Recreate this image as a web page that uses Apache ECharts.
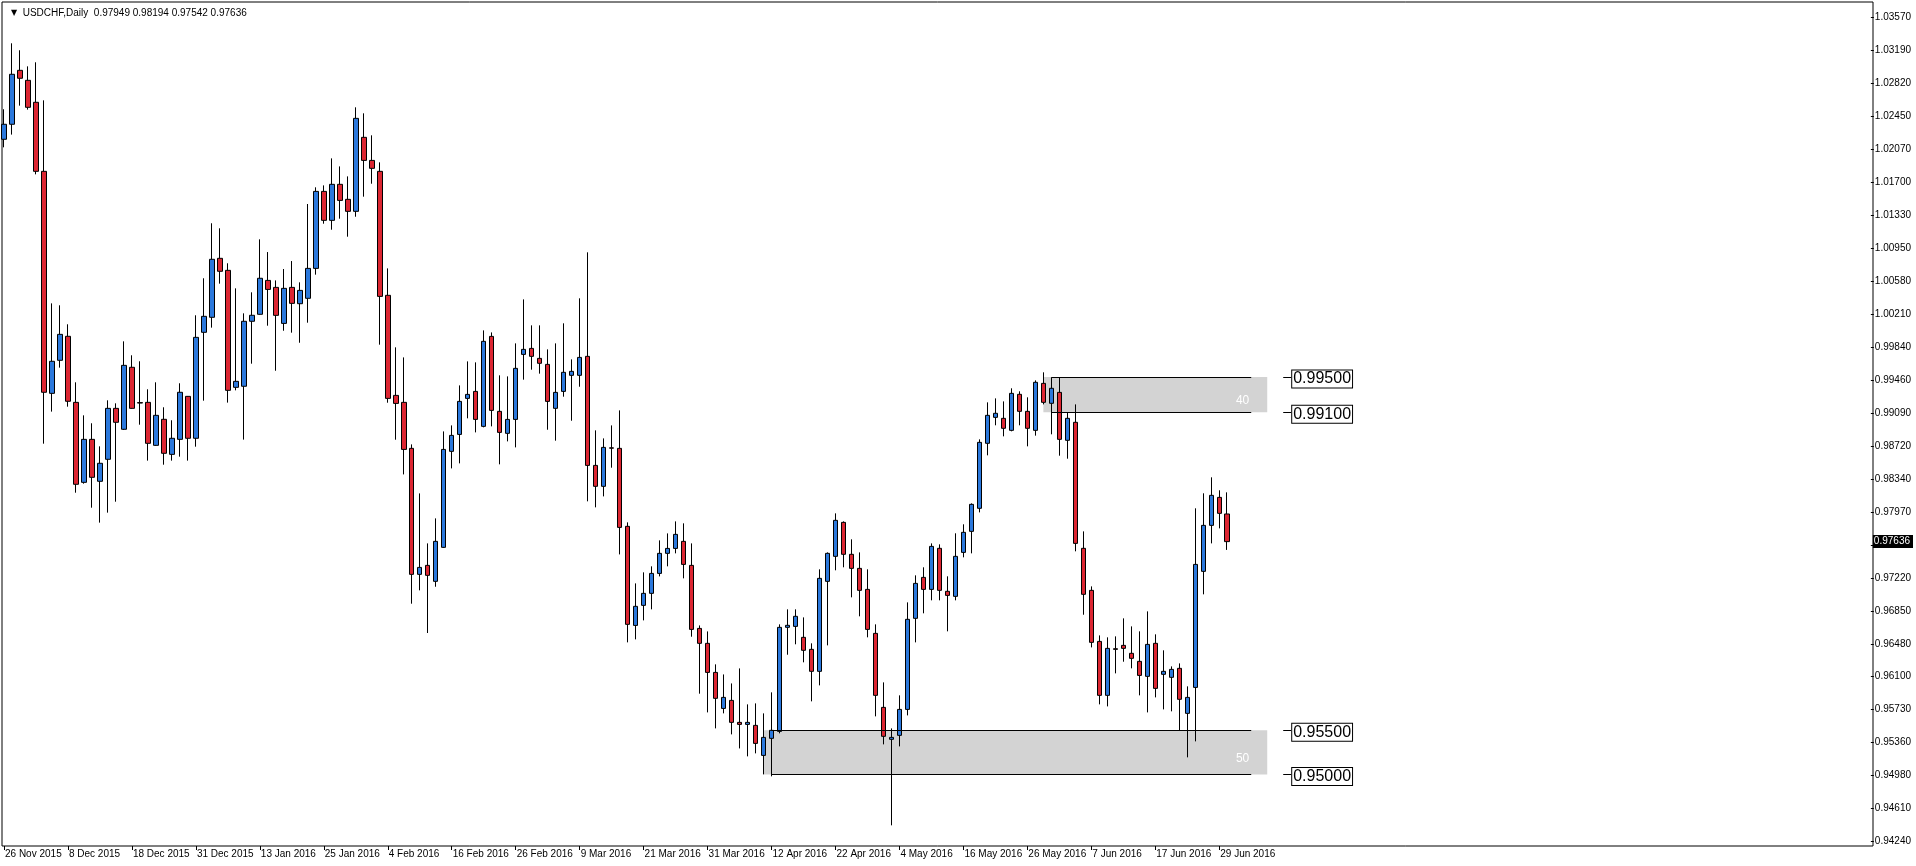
<!DOCTYPE html>
<html lang="en">
<head>
<meta charset="UTF-8">
<title>USDCHF,Daily</title>
<style>html,body{margin:0;padding:0;background:#fff;}</style>
</head>
<body>
<div id="chart" style="width:1916px;height:866px;"></div>
<script src="https://cdn.jsdelivr.net/npm/echarts/dist/echarts.min.js"></script>
<script>
// daily bars, 26 Nov 2015 .. 30 Jun 2016
var open = [
	1.02192,1.02362,1.02973,1.02860,1.02611,1.01829,0.99315,0.99689,0.99961,0.99213,
	0.98307,0.98794,0.98319,0.98568,0.99145,0.98908,0.99610,0.99210,0.99213,0.98726,
	0.99021,0.98624,0.98794,0.99281,0.98806,1.00006,1.00176,1.00844,1.00708,0.99383,
	0.99395,1.00131,1.00210,1.00594,1.00515,1.00107,1.00515,1.00330,1.00391,1.00730,
	1.01602,1.01274,1.01682,1.01512,1.01376,1.02214,1.01953,1.01829,1.00425,0.99292,
	0.99213,0.98692,0.97265,0.97367,0.97186,0.97571,0.98658,0.98850,0.99258,0.99337,
	0.98941,0.99960,0.99111,0.98862,0.99020,0.99756,0.99824,0.99711,0.99643,0.99145,
	0.99337,0.99519,0.99519,0.99734,0.98499,0.98262,0.98698,0.98692,0.97809,0.96687,
	0.96914,0.97050,0.97276,0.97503,0.97559,0.97639,0.97367,0.96653,0.96484,0.96155,
	0.95747,0.95838,0.95589,0.95566,0.95555,0.95215,0.95408,0.95487,0.96665,0.96676,
	0.96552,0.96416,0.96167,0.97186,0.97469,0.97854,0.97492,0.97333,0.97095,0.96597,
	0.95759,0.95397,0.95442,0.95736,0.96767,0.97231,0.97095,0.97560,0.97073,0.97016,
	0.97514,0.97752,0.98013,0.98749,0.99043,0.99032,0.98896,0.99304,0.99111,0.98896,
	0.99428,0.99202,0.99326,0.98783,0.98987,0.97560,0.97084,0.96506,0.95895,0.96423,
	0.96461,0.96371,0.96280,0.96110,0.96484,0.96133,0.96099,0.96201,0.95691,0.95985,
	0.97299,0.97820,0.98137,0.97949
];
var close = [
	1.02362,1.02928,1.02883,1.02554,1.01829,0.99327,0.99678,0.99983,0.99225,0.98285,
	0.98794,0.98364,0.98523,0.99145,0.98987,0.99632,0.99145,0.99205,0.98749,0.99066,
	0.98636,0.98806,0.99327,0.98806,0.99949,1.00187,1.00833,1.00697,0.99349,0.99451,
	1.00131,1.00199,1.00618,1.00492,1.00198,1.00504,1.00334,1.00481,1.00730,1.01602,
	1.01274,1.01682,1.01500,1.01376,1.02429,1.01953,1.01863,1.00413,0.99258,0.99201,
	0.98680,0.97265,0.97344,0.97254,0.97639,0.98680,0.98839,0.99224,0.99303,0.99020,
	0.99904,0.99122,0.98873,0.99020,0.99598,0.99813,0.99734,0.99655,0.99224,0.99326,
	0.99553,0.99564,0.99722,0.98499,0.98262,0.98703,0.98694,0.97797,0.96699,0.96903,
	0.97050,0.97276,0.97503,0.97559,0.97718,0.97378,0.96642,0.96484,0.96155,0.95861,
	0.95872,0.95589,0.95566,0.95589,0.95351,0.95419,0.95499,0.96665,0.96688,0.96790,
	0.96405,0.96167,0.97220,0.97503,0.97877,0.97492,0.97333,0.97084,0.96642,0.95895,
	0.95431,0.95419,0.95736,0.96756,0.97163,0.97095,0.97582,0.97084,0.97027,0.97469,
	0.97741,0.98058,0.98760,0.99066,0.99089,0.98919,0.99315,0.99111,0.98919,0.99440,
	0.99213,0.99372,0.98794,0.99032,0.97616,0.97039,0.96495,0.95895,0.96427,0.96416,
	0.96427,0.96314,0.96121,0.96472,0.95974,0.96167,0.96189,0.95850,0.95872,0.97378,
	0.97820,0.98160,0.97956,0.97636
];
var low = [
	1.02101,1.02245,1.02573,1.02528,1.01795,0.98745,0.99108,0.99606,0.99164,0.98190,
	0.98292,0.98020,0.97851,0.97964,0.98088,0.98900,0.99140,0.98960,0.98553,0.98720,
	0.98507,0.98553,0.98598,0.98553,0.98711,0.99232,1.00059,1.00557,0.99210,0.99349,
	0.98791,0.99651,1.00205,1.00081,0.99571,1.00024,1.00002,0.99888,1.00115,1.00659,
	1.01236,1.01168,1.01293,1.01089,1.01315,1.01542,1.01689,0.99866,0.99209,0.98790,
	0.98397,0.96933,0.97084,0.96601,0.97125,0.97565,0.98465,0.98522,0.99032,0.98873,
	0.98930,0.98941,0.98511,0.98771,0.98703,0.99470,0.99583,0.99538,0.98903,0.98779,
	0.99277,0.99005,0.99390,0.98092,0.98024,0.98148,0.98473,0.97491,0.96495,0.96529,
	0.96744,0.96869,0.97242,0.97356,0.97503,0.97220,0.96559,0.95914,0.95702,0.95521,
	0.95691,0.95453,0.95294,0.95204,0.95238,0.95000,0.94978,0.95465,0.96355,0.96473,
	0.96269,0.95827,0.96008,0.96461,0.97311,0.97345,0.97005,0.96790,0.96552,0.95657,
	0.95340,0.94423,0.95317,0.95668,0.96495,0.96824,0.96971,0.96971,0.96620,0.96971,
	0.97458,0.97503,0.97967,0.98613,0.98953,0.98828,0.98885,0.98953,0.98715,0.98836,
	0.99190,0.98851,0.98609,0.98575,0.97526,0.96808,0.96438,0.95793,0.95770,0.96144,
	0.96276,0.96201,0.95895,0.95702,0.95872,0.95736,0.95714,0.95502,0.95193,0.95374,
	0.97039,0.97616,0.97786,0.97542
];
var high = [
	1.02532,1.03279,1.03200,1.03018,1.03064,1.02633,1.00334,1.00312,1.00097,0.99440,
	0.99066,0.98976,0.98715,0.99236,0.99202,0.99904,0.99746,0.99678,0.99361,0.99440,
	0.99157,0.99010,0.99429,0.99285,1.00199,1.00618,1.01241,1.01184,1.00788,1.00504,
	1.00221,1.00459,1.01059,1.00915,1.00594,1.00723,1.00813,1.00572,1.01459,1.01648,
	1.01670,1.01976,1.01885,1.01772,1.02554,1.02486,1.02237,1.01931,1.00730,0.99836,
	0.99722,0.98737,0.98182,0.97616,0.97899,0.98884,0.98952,0.99405,0.99677,0.99666,
	1.00028,1.00005,0.99519,0.99507,0.99881,1.00379,1.00085,1.00085,0.99813,0.99881,
	1.00108,0.99700,1.00391,1.00912,0.98896,0.98805,0.98952,0.99122,0.97854,0.97163,
	0.97288,0.97356,0.97650,0.97729,0.97865,0.97843,0.97616,0.96687,0.96619,0.96246,
	0.96132,0.96030,0.96200,0.95793,0.95804,0.95691,0.95929,0.96699,0.96869,0.96869,
	0.96778,0.96484,0.97322,0.97514,0.97956,0.97865,0.97662,0.97514,0.97322,0.96699,
	0.96042,0.95521,0.95895,0.96948,0.97254,0.97345,0.97616,0.97605,0.97243,0.97730,
	0.97832,0.98069,0.98794,0.99213,0.99258,0.99224,0.99372,0.99338,0.99270,0.99462,
	0.99553,0.99496,0.99496,0.99100,0.99190,0.97752,0.97129,0.96574,0.96552,0.96563,
	0.96767,0.96676,0.96620,0.96846,0.96586,0.96405,0.96223,0.96257,0.95997,0.98013,
	0.98183,0.98364,0.98217,0.98194
];

// right price scale labels, bottom to top (the one under the bid box is hidden)
var priceTicks = ['0.94240','0.94610','0.94980','0.95360','0.95730','0.96100','0.96480',
	'0.96850','0.97220','','0.97970','0.98340','0.98720','0.99090','0.99460','0.99840',
	'1.00210','1.00580','1.00950','1.01330','1.01700','1.02070','1.02450','1.02820',
	'1.03190','1.03570'];

// drawn objects: zones [fromBar, toBar, top, bottom, text], levels
var zones = [
	[130, 158, 0.99500, 0.99100, '40'],
	[95, 158, 0.95500, 0.95000, '50']
];
var levels = [0.99500, 0.99100, 0.95500, 0.95000];
var levelFrom = [131, 131, 96, 96];
var levelTo = 156;
var bid = 0.97636;

var months = ['Jan','Feb','Mar','Apr','May','Jun','Jul','Aug','Sep','Oct','Nov','Dec'];
var holidays = ['2015-12-25', '2016-01-01'];
var dates = [];
var d = new Date(Date.UTC(2015, 10, 26));
while (dates.length < open.length) {
	var wd = d.getUTCDay();
	if (wd != 0 && wd != 6 && holidays.indexOf(d.toISOString().slice(0, 10)) < 0) {
		dates.push(d.getUTCDate() + ' ' + months[d.getUTCMonth()] + ' ' + d.getUTCFullYear());
	}
	d.setUTCDate(d.getUTCDate() + 1);
}
// empty space on the right of the last bar
var slots = dates.slice();
for (var i = dates.length; i < 234; i++) slots.push('_' + i);

var candles = open.map(function (o, i) { return [o, close[i], low[i], high[i]]; });
var last = open.length - 1;
var ohlc = [open[last], high[last], low[last], close[last]].map(function (v) { return v.toFixed(5); }).join(' ');

function showDate(index) { return index % 8 == 0 && index < dates.length; }

var font = 'Liberation Sans, Arial, sans-serif';

var areaData = zones.map(function (z) {
	return [
		{ xAxis: z[0], yAxis: z[2], name: z[4] },
		{ xAxis: z[1], yAxis: z[3] }
	];
});

var lineData = [];
levels.forEach(function (v, i) {
	lineData.push([{ coord: [levelFrom[i], v] }, { coord: [levelTo, v] }]);
	// price text box with its short leader
	lineData.push([
		{ coord: [160.1, v], label: {
			show: true, position: 'end', formatter: v.toFixed(5), distance: 1,
			offset: [0, 2], color: '#000', fontSize: 16, fontFamily: font,
			backgroundColor: '#fff', borderColor: '#000', borderWidth: 1, padding: [1, 1, 0, 1]
		} },
		{ coord: [161.2, v] }
	]);
});

var myChart = echarts.init(document.getElementById('chart'));

var option = {
	animation: false,
	title: {
		left: 6, top: 3,
		text: '{tri|▼}  USDCHF,Daily  ' + ohlc,
		textStyle: {
			fontFamily: font, fontSize: 10, fontWeight: 'normal', color: '#000',
			rich: { tri: { fontSize: 8, fontFamily: 'DejaVu Sans', color: '#000' } }
		}
	},
	grid: [
		{ left: -1, right: 43, top: 17.6, bottom: 24.5 },
		{ left: 2, right: 43, top: 2, bottom: 20, show: true, borderColor: '#000', borderWidth: 1, backgroundColor: 'transparent' }
	],
	xAxis: [
		{
			type: 'category', gridIndex: 0, data: slots, boundaryGap: true, offset: 4.5,
			axisLine: { show: false },
			axisTick: { show: true, alignWithLabel: true, interval: showDate, length: 4, lineStyle: { color: '#000' } },
			axisLabel: { interval: showDate, align: 'left', margin: 3, fontSize: 10, color: '#000', fontFamily: font, padding: [0, 0, 0, 1] },
			splitLine: { show: false }
		},
		{ type: 'value', gridIndex: 1, show: false }
	],
	yAxis: [
		{ type: 'value', gridIndex: 0, min: 0.9424, max: 1.0357, show: false, splitLine: { show: false } },
		{
			type: 'category', gridIndex: 0, position: 'right', data: priceTicks, boundaryGap: false,
			axisLine: { show: false },
			axisTick: { show: true, interval: 0, length: 3, lineStyle: { color: '#000' } },
			axisLabel: { interval: 0, margin: 4, fontSize: 10, color: '#000', fontFamily: font },
			splitLine: { show: false }
		},
		{ type: 'value', gridIndex: 1, show: false },
		{
			// bid price box on the price scale
			type: 'value', gridIndex: 0, position: 'right', min: 0.9424, max: 1.0357,
			axisLine: { show: false }, axisTick: { show: false }, splitLine: { show: false },
			axisLabel: {
				show: true, customValues: [bid], margin: 2, fontSize: 10, fontFamily: font,
				color: '#fff', backgroundColor: '#000', padding: [2, 3, 1, 1],
				formatter: function (v) { return v.toFixed(5); }
			}
		}
	],
	series: [
		{
			type: 'line', xAxisIndex: 0, yAxisIndex: 0, data: [], z: 1, silent: true,
			markArea: {
				silent: true,
				itemStyle: { color: '#d3d3d3' },
				label: { show: true, position: 'insideRight', distance: 18, offset: [0, 6.5], color: '#fff', fontSize: 12, fontFamily: font },
				data: areaData
			}
		},
		{
			type: 'candlestick', xAxisIndex: 0, yAxisIndex: 0, data: candles, z: 2,
			barWidth: 5,
			itemStyle: { color: '#2b78dc', color0: '#dc2632', borderColor: '#000', borderColor0: '#000', borderWidth: 1 },
			markLine: {
				silent: true, symbol: ['none', 'none'],
				label: { show: false },
				lineStyle: { color: '#000', width: 1, type: 'solid' },
				data: lineData
			}
		}
	]
};
myChart.setOption(option);
</script>
</body>
</html>
